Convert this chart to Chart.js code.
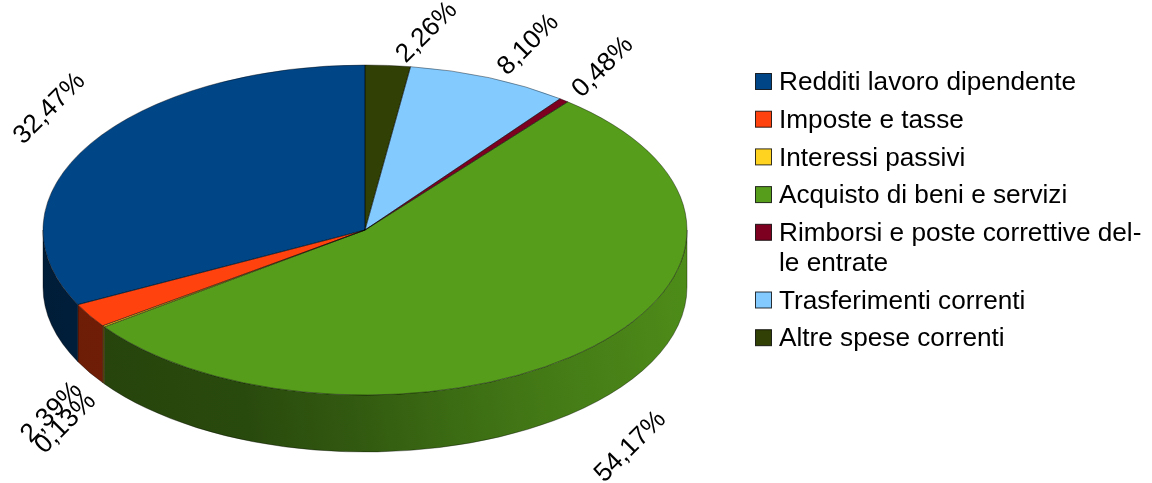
<!DOCTYPE html>
<html>
<head>
<meta charset="utf-8">
<script src="https://cdn.jsdelivr.net/npm/chart.js@4/dist/chart.umd.min.js"></script>
<style>
  html, body { margin: 0; padding: 0; background: #fff; }
  canvas { display: block; }
</style>
</head>
<body>
<canvas id="chart" width="1152" height="483"></canvas>
<script>
const categories = ["Redditi lavoro dipendente", "Imposte e tasse", "Interessi passivi", "Acquisto di beni e servizi", "Rimborsi e poste correttive del-|le entrate", "Trasferimenti correnti", "Altre spese correnti"]
const shares = [32.47, 2.39, 0.13, 54.17, 0.48, 8.10, 2.26]
const colors = ["#004586", "#ff420e", "#ffd320", "#579d1c", "#7e0021", "#83caff", "#314004"]

const FONT = '26.2px "Liberation Sans"'
const RX = 322, RY = 165, DEPTH = 57

// wall brightness along the light direction
const wallStops = [[0, 0.42], [0.29, 0.47], [0.45, 0.57], [0.6, 0.68], [0.75, 0.78], [0.9, 0.85], [1, 0.9]]

// slices run counter-clockwise from the top in the original, so feed them reversed
const rev = arr => [...arr].reverse()

function squash(ctx, arc) {
  ctx.translate(arc.x, arc.y)
  ctx.scale(RX / arc.outerRadius, RY / arc.outerRadius)
  ctx.translate(-arc.x, -arc.y)
}

function shade(hex, f) {
  const n = parseInt(hex.slice(1), 16)
  return `rgb(${(n >> 16) * f},${((n >> 8) & 255) * f},${(n & 255) * f})`
}

const pie3d = {
  id: "pie3d",
  beforeDatasetsDraw(chart) {
    const ctx = chart.ctx
    const arcs = chart.getDatasetMeta(0).data
    const left = arcs[0].x - RX

    // side wall, only the front half of the disc shows
    arcs.forEach((arc, i) => {
      const a = Math.max(arc.startAngle, 0)
      const b = Math.min(arc.endAngle, Math.PI)
      if (b <= a) return
      const d = DEPTH * arc.outerRadius / RY
      ctx.save()
      squash(ctx, arc)
      ctx.beginPath()
      ctx.arc(arc.x, arc.y, arc.outerRadius, a, b)
      ctx.arc(arc.x, arc.y + d, arc.outerRadius, b, a, true)
      ctx.closePath()
      ctx.restore()
      const c = chart.data.datasets[0].backgroundColor[i]
      // slightly tilted, the reference is lighter towards the upper right
      const g = ctx.createLinearGradient(left, arc.y + 100, left + 2 * RX, arc.y)
      wallStops.forEach(s => g.addColorStop(s[0], shade(c, s[1])))
      ctx.fillStyle = g
      ctx.fill()
      ctx.strokeStyle = "rgba(0,0,0,0.6)"
      ctx.lineWidth = 0.6
      ctx.stroke()
    })

    ctx.save()
    squash(ctx, arcs[0])
  },
  afterDatasetsDraw(chart) {
    const ctx = chart.ctx
    ctx.restore()
    const arcs = chart.getDatasetMeta(0).data

    // outlines are stroked after the restore so the squash doesn't fatten them
    arcs.forEach(arc => {
      ctx.save()
      squash(ctx, arc)
      ctx.beginPath()
      ctx.moveTo(arc.x, arc.y)
      ctx.arc(arc.x, arc.y, arc.outerRadius, arc.startAngle, arc.endAngle)
      ctx.closePath()
      ctx.restore()
      ctx.strokeStyle = "rgba(0,0,0,0.65)"
      ctx.lineWidth = 0.6
      ctx.stroke()
    })

    // value labels, rotated 45 degrees just outside the rim
    ctx.save()
    ctx.font = FONT
    ctx.fillStyle = "#000"
    ctx.textAlign = "center"
    ctx.textBaseline = "middle"
    arcs.forEach((arc, i) => {
      const mid = (arc.startAngle + arc.endAngle) / 2
      const cos = Math.cos(mid), sin = Math.sin(mid)
      const front = sin > 0
      const dx = cos > 0 ? (front ? 44 : 39) : (front ? -38 : -41)
      const dy = front ? DEPTH + 40 : (cos > 0 ? -33 : -35)
      const txt = chart.data.datasets[0].data[i].toFixed(2).replace(".", ",") + "%"
      ctx.save()
      ctx.translate(arc.x + RX * cos + dx, arc.y + RY * sin + dy)
      ctx.rotate(-Math.PI / 4)
      ctx.fillText(txt, 0, 0)
      ctx.restore()
    })
    ctx.restore()

    // legend: the built-in one can't do the wrapped entry
    ctx.save()
    ctx.font = FONT
    ctx.textAlign = "left"
    ctx.textBaseline = "middle"
    let y = 82
    categories.forEach((name, i) => {
      ctx.fillStyle = colors[i]
      ctx.fillRect(755.5, y - 8.5, 16, 16)
      ctx.strokeStyle = "rgba(0,0,0,0.8)"
      ctx.lineWidth = 1
      ctx.strokeRect(755.5, y - 8.5, 16, 16)
      ctx.fillStyle = "#000"
      const lines = name.split("|")
      lines.forEach((line, k) => ctx.fillText(line, 779, y + 1 + k * 30))
      y += 37.7 + (lines.length - 1) * 30
    })
    ctx.restore()
  }
}

new Chart(document.getElementById("chart"), {
  type: "pie",
  data: {
    labels: rev(categories).map(s => s.replace("|", "")),
    datasets: [{
      data: rev(shares),
      backgroundColor: rev(colors),
      borderWidth: 0,
      clip: false
    }]
  },
  options: {
    responsive: false,
    animation: false,
    layout: { padding: { left: 200, right: 622, top: 65, bottom: 88 } },
    plugins: {
      legend: { display: false },
      tooltip: { enabled: false }
    }
  },
  plugins: [pie3d]
})
</script>
</body>
</html>
